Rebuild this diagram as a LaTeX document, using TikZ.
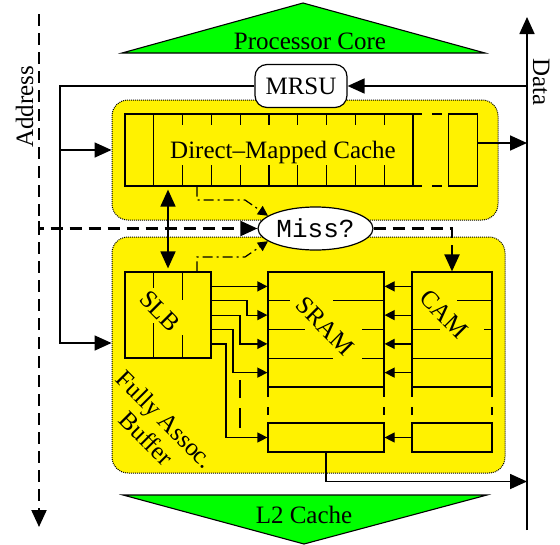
\documentclass[tikz,border=0pt]{standalone}
\usepackage{fontspec}
\setmainfont{Liberation Serif}
\newfontfamily\missfont{Liberation Mono}
\usetikzlibrary{arrows.meta,shapes.geometric}
\begin{document}
\begin{tikzpicture}[x=1pt,y=-1pt,
  font=\fontsize{25}{30}\selectfont,
  ln/.style={line width=1.2pt},
  thk/.style={line width=1.7pt},
  big/.style={-{Triangle[length=17pt,width=15pt]}},
  sml/.style={-{Triangle[length=10pt,width=10pt]}},
  ybox/.style={draw, fill=yellow, densely dotted, line width=1pt, rounded corners=16pt, inner sep=0pt},
  cellbox/.style={draw, line width=1.2pt, inner sep=0pt},
  addr/.style={line width=2.1pt, dash pattern=on 12pt off 7pt},
  dd/.style={line width=1.2pt, dash pattern=on 10pt off 4pt on 2pt off 4pt},
  tri/.style={draw, fill=green, line width=1.1pt},
]
\useasboundingbox (0,0) rectangle (560,544);

% green triangles
\path[tri] (122,53) -- (303,3) -- (485,53) -- cycle;
\node[anchor=base] (pc) at (310,49) {Processor Core};
\path[tri] (123,495) -- (487,495) -- (304,544) -- cycle;
\node[anchor=base] (l2) at (304,523) {L2 Cache};

% yellow boxes
\node[ybox, minimum width=386pt, minimum height=120pt] (upper) at (305,160) {};
\node[ybox, minimum width=393pt, minimum height=236pt] (lower) at (308.5,355) {};

% direct mapped cache
\node[cellbox, minimum width=288pt, minimum height=72pt] (dm) at (269,150) {};
\node[cellbox, minimum width=29pt, minimum height=72pt] (dml) at (462.8,150) {};
\draw[ln] (153.8,114) -- (153.8,186);
\foreach \i in {2,...,9}
  \draw[ln] (125+28.8*\i,114) -- (125+28.8*\i,125) (125+28.8*\i,165) -- (125+28.8*\i,186);
\draw[ln] (413,114) -- (422,114) (432,114) -- (442,114) (413,186) -- (422,186) (432,186) -- (442,186);
\node[anchor=base] (dmt) at (283,158) {Direct--Mapped Cache};

% SLB
\node[cellbox, minimum width=86pt, minimum height=86pt] (slb) at (168,315) {};
\draw[ln] (153.8,272) -- (153.8,288) (153.8,323) -- (153.8,358)
          (182.6,272) -- (182.6,300) (182.6,335) -- (182.6,358);
\node[rotate=-45] (slbt) at (160,311) {SLB};

% SRAM
\node[cellbox, minimum width=116pt, minimum height=115pt] (sram) at (326,329.5) {};
\draw[ln] (268,300.75) -- (290,300.75) (333,300.75) -- (384,300.75)
          (268,329.5) -- (305,329.5) (362,329.5) -- (384,329.5)
          (268,358.25) -- (333,358.25) (362,358.25) -- (384,358.25);
\draw[ln] (268,387) -- (268,397) (268,407) -- (268,415)
          (384,387) -- (384,397) (384,407) -- (384,415);
\node[rotate=-45] (sramt) at (325,326) {SRAM};
\node[cellbox, minimum width=116pt, minimum height=29pt] (sramb) at (326,437.5) {};

% CAM
\node[cellbox, minimum width=80pt, minimum height=115pt] (cam) at (452,329.5) {};
\draw[ln] (457,300.75) -- (492,300.75)
          (412,329.5) -- (440,329.5) (484,329.5) -- (492,329.5)
          (412,358.25) -- (492,358.25);
\draw[ln] (412,387) -- (412,397) (412,407) -- (412,415)
          (492,387) -- (492,397) (492,407) -- (492,415);
\node[rotate=-45] (camt) at (444,314) {CAM};
\node[cellbox, minimum width=80pt, minimum height=29pt] (camb) at (452,437.5) {};

\node[rotate=-45, align=center, font=\fontsize{25}{27}\selectfont] (fab) at (156,429) {Fully Assoc.\\Buffer};

% row coordinates
\coordinate (r1) at (0,286.4);
\coordinate (r2) at (0,315.1);
\coordinate (r3) at (0,343.9);
\coordinate (r4) at (0,372.6);
\coordinate (s2) at (0,300.75);
\coordinate (s4) at (0,329.5);

% SLB -> SRAM
\draw[ln, sml] (slb.east |- r1) -- (sram.west |- r1);
\draw[ln, sml] (slb.east |- s2) -| (247,315.1) -- (sram.west |- r2);
\draw[ln, sml] (slb.east |- r2) -| (240,343.9) -- (sram.west |- r3);
\draw[ln, sml] (slb.east |- s4) -| (233,372.6) -- (sram.west |- r4);
\draw[ln, sml] (slb.east |- r3) -| (226,437.5) -- (sramb.west);
\draw[ln] (240,380) -- (240,398) (240,408) -- (240,428);

% CAM -> SRAM
\foreach \r in {r1,r2,r3,r4}
  \draw[ln, sml] (cam.west |- \r) -- (sram.east |- \r);
\draw[ln, sml] (camb.west) -- (sramb.east);

% data line
\coordinate (dbot) at (527,530);
\coordinate (dtop) at (527,17);
\draw[thk, big] (dbot) -- (dtop);
\node[rotate=-90, anchor=base] (datat) at (533,82) {Data};

% address line
\coordinate (atop) at (39,14);
\coordinate (abot) at (39,527);
\coordinate (acorner) at (39,221);
\draw[addr, big] (atop) -- (abot);
\node[rotate=90, anchor=base] (addrt) at (33,107) {Address};

% Miss?
\node[ellipse, draw, fill=white, ln, minimum width=115pt, minimum height=43pt, inner sep=0pt,
      font=\missfont\fontsize{26}{30}\selectfont] (miss) at (315.5,228.5) {Miss?};
\draw[addr, big] (acorner) |- (miss.west);
\draw[addr, big] (miss.east) -| (cam.north);

% MRSU
\node[draw, fill=white, ln, rounded corners=12pt, minimum width=92pt, minimum height=43pt, inner sep=0pt] (mrsu) at (301,86) {MRSU};
\draw[thk, big] (dtop |- mrsu.east) -- (mrsu.east);
\coordinate (fa) at (60,150);
\coordinate (fb) at (60,343);
\draw[thk, big] (mrsu.west) -| (fb) -- (fb -| lower.west);
\draw[thk, big] (fa) -- (fa -| upper.west);

% outputs
\coordinate (o1) at (477,143);
\draw[thk, big] (o1 -| dml.east) -- (o1 -| dtop);
\coordinate (o2) at (0,481.5);
\draw[thk, big] (sramb.south) |- (o2 -| dtop);

% DM <-> SLB
\draw[thk, {Triangle[length=17pt,width=15pt]}-{Triangle[length=17pt,width=15pt]}, shorten <=3pt, shorten >=3pt]
  (dm.south -| slb.north) -- (slb.north);

% miss detection (dash-dot)
\coordinate (k) at (197,200);
\coordinate (k2) at (245,200);
\draw[dd, sml] (dm.south -| k) -- (k) -- (k2) -- (miss.165);
\coordinate (m) at (197,257);
\coordinate (m2) at (245,257);
\draw[dd, sml] (slb.north -| m) -- (m) -- (m2) -- (miss.195);
\end{tikzpicture}
\end{document}
